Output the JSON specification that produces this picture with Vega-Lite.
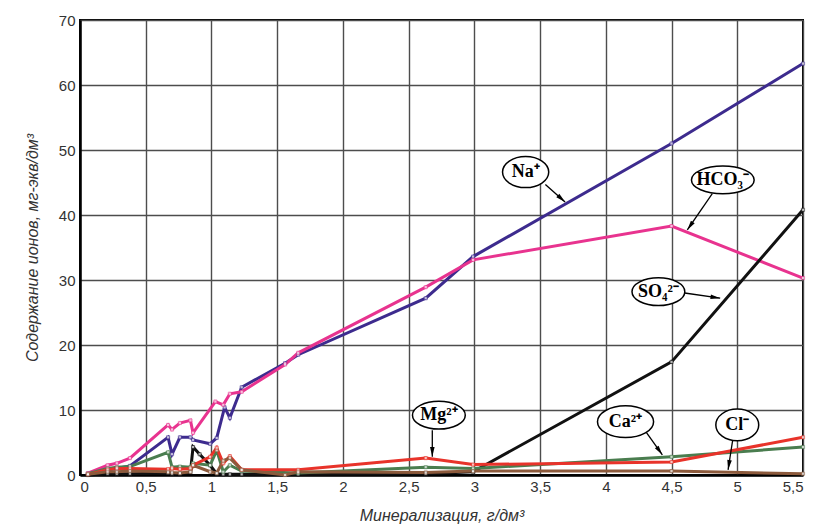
{
  "$schema": "https://vega.github.io/schema/vega-lite/v6.json",
  "width": 723,
  "height": 455,
  "autosize": "none",
  "padding": {"left": 80, "top": 20, "right": 18, "bottom": 54},
  "background": "white",
  "config": {
    "view": {"stroke": "black", "strokeWidth": 2},
    "axis": {
      "gridColor": "#4d4d4d", "gridWidth": 1.4, "gridOpacity": 1,
      "domainColor": "black", "domainWidth": 2.5,
      "ticks": false,
      "labelFont": "Liberation Sans", "labelFontSize": 15, "labelColor": "#333333",
      "titleFont": "Liberation Sans", "titleFontSize": 16, "titleFontStyle": "italic", "titleFontWeight": "normal", "titleColor": "#333333"
    }
  },
  "datasets": {
    "series": [
      {"ion": "Na", "x": 0.06, "y": 0.2}, {"ion": "Na", "x": 0.21, "y": 0.8}, {"ion": "Na", "x": 0.28, "y": 1.0}, {"ion": "Na", "x": 0.38, "y": 1.4},
      {"ion": "Na", "x": 0.67, "y": 5.8}, {"ion": "Na", "x": 0.70, "y": 3.2}, {"ion": "Na", "x": 0.76, "y": 5.8}, {"ion": "Na", "x": 0.84, "y": 5.8},
      {"ion": "Na", "x": 0.86, "y": 5.4}, {"ion": "Na", "x": 0.99, "y": 4.8}, {"ion": "Na", "x": 1.04, "y": 5.7}, {"ion": "Na", "x": 1.10, "y": 10.4},
      {"ion": "Na", "x": 1.14, "y": 8.8}, {"ion": "Na", "x": 1.23, "y": 13.5}, {"ion": "Na", "x": 1.56, "y": 17.2}, {"ion": "Na", "x": 1.66, "y": 18.5},
      {"ion": "Na", "x": 2.63, "y": 27.2}, {"ion": "Na", "x": 2.99, "y": 33.6}, {"ion": "Na", "x": 4.50, "y": 51.0}, {"ion": "Na", "x": 5.50, "y": 63.3},

      {"ion": "HCO3", "x": 0.06, "y": 0.3}, {"ion": "HCO3", "x": 0.21, "y": 1.5}, {"ion": "HCO3", "x": 0.28, "y": 1.8}, {"ion": "HCO3", "x": 0.38, "y": 2.6},
      {"ion": "HCO3", "x": 0.67, "y": 7.7}, {"ion": "HCO3", "x": 0.70, "y": 7.0}, {"ion": "HCO3", "x": 0.76, "y": 8.0}, {"ion": "HCO3", "x": 0.84, "y": 8.4},
      {"ion": "HCO3", "x": 0.86, "y": 6.5}, {"ion": "HCO3", "x": 1.03, "y": 11.3}, {"ion": "HCO3", "x": 1.09, "y": 10.8}, {"ion": "HCO3", "x": 1.14, "y": 12.5},
      {"ion": "HCO3", "x": 1.23, "y": 12.8}, {"ion": "HCO3", "x": 1.56, "y": 17.0}, {"ion": "HCO3", "x": 1.66, "y": 18.8}, {"ion": "HCO3", "x": 2.63, "y": 28.9},
      {"ion": "HCO3", "x": 2.99, "y": 33.1}, {"ion": "HCO3", "x": 4.50, "y": 38.3}, {"ion": "HCO3", "x": 5.50, "y": 30.3},

      {"ion": "SO4", "x": 0.06, "y": 0.0}, {"ion": "SO4", "x": 0.21, "y": 0.2}, {"ion": "SO4", "x": 0.28, "y": 0.2}, {"ion": "SO4", "x": 0.38, "y": 0.2},
      {"ion": "SO4", "x": 0.67, "y": 0.3}, {"ion": "SO4", "x": 0.70, "y": 0.2}, {"ion": "SO4", "x": 0.76, "y": 0.2}, {"ion": "SO4", "x": 0.84, "y": 0.4},
      {"ion": "SO4", "x": 0.86, "y": 4.3}, {"ion": "SO4", "x": 0.91, "y": 3.2}, {"ion": "SO4", "x": 0.99, "y": 1.5}, {"ion": "SO4", "x": 1.04, "y": 0.2},
      {"ion": "SO4", "x": 1.09, "y": 0.1}, {"ion": "SO4", "x": 1.14, "y": 0.1}, {"ion": "SO4", "x": 1.23, "y": 0.1}, {"ion": "SO4", "x": 1.66, "y": 0.1},
      {"ion": "SO4", "x": 2.63, "y": 0.2}, {"ion": "SO4", "x": 2.99, "y": 0.5}, {"ion": "SO4", "x": 4.50, "y": 17.4}, {"ion": "SO4", "x": 5.50, "y": 40.8},

      {"ion": "Ca", "x": 0.06, "y": 0.2}, {"ion": "Ca", "x": 0.21, "y": 1.0}, {"ion": "Ca", "x": 0.28, "y": 1.2}, {"ion": "Ca", "x": 0.38, "y": 1.3},
      {"ion": "Ca", "x": 0.67, "y": 3.5}, {"ion": "Ca", "x": 0.70, "y": 1.2}, {"ion": "Ca", "x": 0.76, "y": 1.3}, {"ion": "Ca", "x": 0.84, "y": 1.2},
      {"ion": "Ca", "x": 0.86, "y": 1.8}, {"ion": "Ca", "x": 0.99, "y": 1.5}, {"ion": "Ca", "x": 1.04, "y": 3.8}, {"ion": "Ca", "x": 1.09, "y": 0.5},
      {"ion": "Ca", "x": 1.14, "y": 1.5}, {"ion": "Ca", "x": 1.23, "y": 0.6}, {"ion": "Ca", "x": 1.66, "y": 0.3}, {"ion": "Ca", "x": 2.63, "y": 1.2},
      {"ion": "Ca", "x": 2.99, "y": 1.0}, {"ion": "Ca", "x": 4.50, "y": 2.8}, {"ion": "Ca", "x": 5.50, "y": 4.3},

      {"ion": "Mg", "x": 0.06, "y": 0.1}, {"ion": "Mg", "x": 0.21, "y": 0.8}, {"ion": "Mg", "x": 0.28, "y": 1.0}, {"ion": "Mg", "x": 0.38, "y": 1.0},
      {"ion": "Mg", "x": 0.67, "y": 0.9}, {"ion": "Mg", "x": 0.70, "y": 1.0}, {"ion": "Mg", "x": 0.76, "y": 0.9}, {"ion": "Mg", "x": 0.84, "y": 1.0},
      {"ion": "Mg", "x": 0.86, "y": 1.5}, {"ion": "Mg", "x": 0.99, "y": 2.8}, {"ion": "Mg", "x": 1.04, "y": 4.2}, {"ion": "Mg", "x": 1.09, "y": 1.8},
      {"ion": "Mg", "x": 1.14, "y": 2.9}, {"ion": "Mg", "x": 1.23, "y": 0.8}, {"ion": "Mg", "x": 1.66, "y": 0.8}, {"ion": "Mg", "x": 2.63, "y": 2.6},
      {"ion": "Mg", "x": 2.99, "y": 1.6}, {"ion": "Mg", "x": 4.50, "y": 2.0}, {"ion": "Mg", "x": 5.50, "y": 5.8},

      {"ion": "Cl", "x": 0.06, "y": 0.1}, {"ion": "Cl", "x": 0.21, "y": 0.5}, {"ion": "Cl", "x": 0.28, "y": 0.5}, {"ion": "Cl", "x": 0.38, "y": 0.6},
      {"ion": "Cl", "x": 0.67, "y": 0.5}, {"ion": "Cl", "x": 0.70, "y": 0.4}, {"ion": "Cl", "x": 0.76, "y": 0.3}, {"ion": "Cl", "x": 0.84, "y": 0.5},
      {"ion": "Cl", "x": 0.86, "y": 1.5}, {"ion": "Cl", "x": 0.99, "y": 0.5}, {"ion": "Cl", "x": 1.04, "y": 0.3}, {"ion": "Cl", "x": 1.09, "y": 2.2},
      {"ion": "Cl", "x": 1.14, "y": 2.6}, {"ion": "Cl", "x": 1.23, "y": 0.8}, {"ion": "Cl", "x": 1.56, "y": 0.0}, {"ion": "Cl", "x": 1.66, "y": 0.5},
      {"ion": "Cl", "x": 2.63, "y": 0.4}, {"ion": "Cl", "x": 2.99, "y": 0.6}, {"ion": "Cl", "x": 4.50, "y": 0.6}, {"ion": "Cl", "x": 5.50, "y": 0.2}
    ],
    "labels": [
      {"label": "Na⁺", "x": 3.39, "y": 46.6},
      {"label": "HCO₃⁻", "x": 4.89, "y": 45.4},
      {"label": "SO₄²⁻", "x": 4.40, "y": 28.2},
      {"label": "Mg²⁺", "x": 2.73, "y": 9.2},
      {"label": "Ca²⁺", "x": 4.15, "y": 8.2},
      {"label": "Cl⁻", "x": 5.0, "y": 7.7}
    ],
    "arrows": [
      {"label": "Na⁺", "x": 3.54, "y": 44.7, "x2": 3.69, "y2": 42.0},
      {"label": "HCO₃⁻", "x": 4.81, "y": 43.3, "x2": 4.62, "y2": 37.7},
      {"label": "SO₄²⁻", "x": 4.60, "y": 28.0, "x2": 4.87, "y2": 27.2},
      {"label": "Mg²⁺", "x": 2.68, "y": 6.9, "x2": 2.68, "y2": 2.8},
      {"label": "Ca²⁺", "x": 4.30, "y": 6.8, "x2": 4.43, "y2": 3.1},
      {"label": "Cl⁻", "x": 4.97, "y": 6.0, "x2": 4.93, "y2": 0.8}
    ]
  },
  "layer": [
    {
      "data": {"name": "series"},
      "mark": {"type": "line", "strokeWidth": 3},
      "encoding": {
        "x": {"field": "x", "type": "quantitative", "scale": {"domain": [0, 5.5], "nice": false},
              "axis": {"values": [0, 0.5, 1, 1.5, 2, 2.5, 3, 3.5, 4, 4.5, 5, 5.5], "labelExpr": "replace(format(datum.value, '~g'), '.', ',')", "labelPadding": 4, "title": "Минерализация, г/дм³", "titlePadding": 13}},
        "y": {"field": "y", "type": "quantitative", "scale": {"domain": [0, 70], "nice": false},
              "axis": {"values": [0, 10, 20, 30, 40, 50, 60, 70], "format": "d", "labelPadding": 5, "title": "Содержание ионов, мг-экв/дм³", "titlePadding": 18}},
        "color": {"field": "ion", "type": "nominal", "legend": null,
                  "scale": {"domain": ["Na", "HCO3", "SO4", "Ca", "Mg", "Cl"], "range": ["#3d2b8e", "#e8338f", "#111111", "#4a7d4f", "#e8332a", "#8c5a3c"]}}
      }
    },
    {
      "data": {"name": "series"},
      "mark": {"type": "point", "shape": "square", "filled": true, "fill": "white", "size": 10, "strokeWidth": 0.8},
      "encoding": {
        "x": {"field": "x", "type": "quantitative"},
        "y": {"field": "y", "type": "quantitative"},
        "stroke": {"field": "ion", "type": "nominal", "legend": null,
                   "scale": {"domain": ["Na", "HCO3", "SO4", "Ca", "Mg", "Cl"], "range": ["#3d2b8e", "#e8338f", "#111111", "#4a7d4f", "#e8332a", "#8c5a3c"]}}
      }
    },
    {
      "data": {"name": "arrows"},
      "mark": {"type": "rule", "color": "black", "strokeWidth": 1.3},
      "encoding": {
        "x": {"field": "x", "type": "quantitative"},
        "y": {"field": "y", "type": "quantitative"},
        "x2": {"field": "x2"},
        "y2": {"field": "y2"}
      }
    },
    {
      "data": {"name": "arrows"},
      "transform": [{"calculate": "atan2((datum.x2 - datum.x) * 131.45, (datum.y2 - datum.y) * 6.5) * 180 / PI", "as": "ang"}],
      "mark": {"type": "point", "shape": "M0,0L0.4,1.7L-0.4,1.7Z", "filled": true, "color": "black", "size": 130, "opacity": 1},
      "encoding": {
        "x": {"field": "x2", "type": "quantitative"},
        "y": {"field": "y2", "type": "quantitative"},
        "angle": {"field": "ang", "type": "quantitative", "scale": null}
      }
    },
    {
      "data": {"name": "labels"},
      "mark": {"type": "point", "filled": true, "fill": "white", "stroke": "black", "strokeWidth": 1.5, "size": 4356, "opacity": 1},
      "encoding": {
        "x": {"field": "x", "type": "quantitative"},
        "y": {"field": "y", "type": "quantitative"},
        "shape": {"field": "label", "type": "nominal", "legend": null,
                  "scale": {"domain": ["Na⁺", "HCO₃⁻", "SO₄²⁻", "Mg²⁺", "Ca²⁺", "Cl⁻"],
                            "range": [
                              "M-0.7,0A0.7,0.47 0 1,1 0.7,0A0.7,0.47 0 1,1 -0.7,0Z",
                              "M-0.95,0A0.95,0.42 0 1,1 0.95,0A0.95,0.42 0 1,1 -0.95,0Z",
                              "M-0.8,0A0.8,0.42 0 1,1 0.8,0A0.8,0.42 0 1,1 -0.8,0Z",
                              "M-0.8,0A0.8,0.42 0 1,1 0.8,0A0.8,0.42 0 1,1 -0.8,0Z",
                              "M-0.85,0A0.85,0.48 0 1,1 0.85,0A0.85,0.48 0 1,1 -0.85,0Z",
                              "M-0.65,0A0.65,0.48 0 1,1 0.65,0A0.65,0.48 0 1,1 -0.65,0Z"
                            ]}}
      }
    },
    {
      "data": {"name": "labels"},
      "mark": {"type": "text", "font": "Liberation Serif", "fontWeight": "bold", "fontSize": 18, "color": "black", "align": "center", "baseline": "middle"},
      "encoding": {
        "x": {"field": "x", "type": "quantitative"},
        "y": {"field": "y", "type": "quantitative"},
        "text": {"field": "label"}
      }
    }
  ]
}
